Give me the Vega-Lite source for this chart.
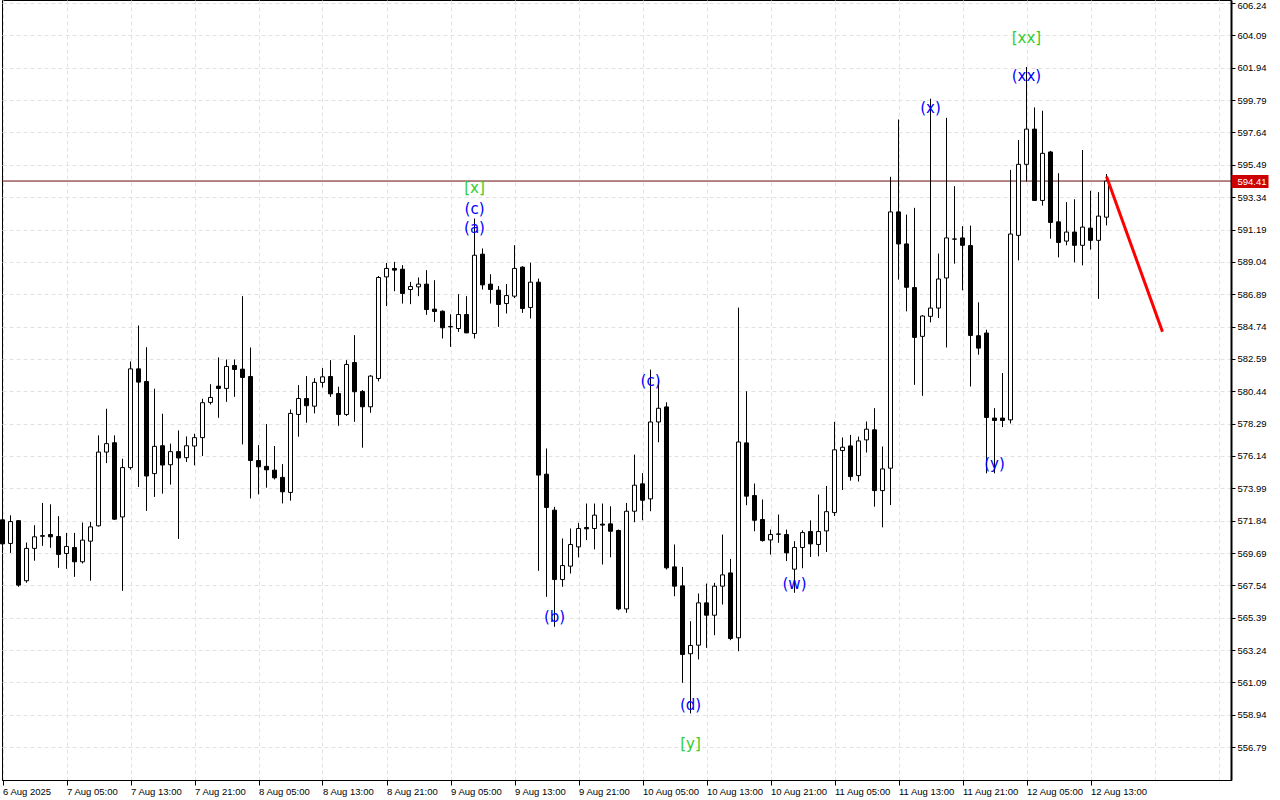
{
  "$schema": "https://vega.github.io/schema/vega-lite/v6.json",
  "width": 1229,
  "height": 780,
  "autosize": {"type": "none"},
  "padding": {"left": 2, "top": 0, "right": 49, "bottom": 20},
  "background": "white",
  "config": {"view": {"stroke": "black", "strokeWidth": 1}, "font": "Liberation Sans", "axis": {"labelOverlap": false}},
  "resolve": {"axis": {"y": "independent"}},
  "datasets": {
    "candles": [
      {"t":"2025-08-06T21:00Z","o":571.9,"h":572.3,"l":569.9,"c":570.3},
      {"t":"2025-08-06T22:00Z","o":570.33,"h":572.2,"l":569.7,"c":571.78},
      {"t":"2025-08-06T23:00Z","o":571.84,"h":571.87,"l":567.45,"c":567.56},
      {"t":"2025-08-07T00:00Z","o":567.85,"h":570.39,"l":567.72,"c":570.0},
      {"t":"2025-08-07T01:00Z","o":570.0,"h":571.54,"l":569.18,"c":570.77},
      {"t":"2025-08-07T02:00Z","o":570.8,"h":573.02,"l":570.17,"c":570.85},
      {"t":"2025-08-07T03:00Z","o":570.92,"h":572.93,"l":570.04,"c":570.77},
      {"t":"2025-08-07T04:00Z","o":570.79,"h":572.14,"l":568.71,"c":569.6},
      {"t":"2025-08-07T05:00Z","o":569.66,"h":571.03,"l":568.64,"c":570.13},
      {"t":"2025-08-07T06:00Z","o":570.06,"h":571.03,"l":568.11,"c":569.11},
      {"t":"2025-08-07T07:00Z","o":569.11,"h":571.72,"l":569.0,"c":570.55},
      {"t":"2025-08-07T08:00Z","o":570.48,"h":571.76,"l":567.85,"c":571.43},
      {"t":"2025-08-07T09:00Z","o":571.5,"h":577.51,"l":571.45,"c":576.4},
      {"t":"2025-08-07T10:00Z","o":576.4,"h":579.28,"l":575.67,"c":576.96},
      {"t":"2025-08-07T11:00Z","o":577.02,"h":577.51,"l":571.9,"c":571.94},
      {"t":"2025-08-07T12:00Z","o":572.09,"h":575.96,"l":567.18,"c":575.37},
      {"t":"2025-08-07T13:00Z","o":575.37,"h":582.42,"l":575.23,"c":581.93},
      {"t":"2025-08-07T14:00Z","o":581.93,"h":584.81,"l":574.08,"c":581.05},
      {"t":"2025-08-07T15:00Z","o":581.09,"h":583.37,"l":572.49,"c":574.81},
      {"t":"2025-08-07T16:00Z","o":574.97,"h":580.61,"l":573.42,"c":576.78},
      {"t":"2025-08-07T17:00Z","o":576.82,"h":578.95,"l":573.64,"c":575.54},
      {"t":"2025-08-07T18:00Z","o":575.56,"h":576.96,"l":574.24,"c":576.43},
      {"t":"2025-08-07T19:00Z","o":576.43,"h":577.84,"l":570.63,"c":576.01},
      {"t":"2025-08-07T20:00Z","o":576.03,"h":577.44,"l":575.74,"c":576.82},
      {"t":"2025-08-07T21:00Z","o":576.8,"h":577.62,"l":575.52,"c":577.36},
      {"t":"2025-08-07T22:00Z","o":577.36,"h":579.94,"l":576.14,"c":579.68},
      {"t":"2025-08-07T23:00Z","o":579.7,"h":580.91,"l":579.56,"c":580.03},
      {"t":"2025-08-08T00:00Z","o":580.78,"h":582.69,"l":578.68,"c":580.63},
      {"t":"2025-08-08T01:00Z","o":580.63,"h":582.55,"l":579.74,"c":582.09},
      {"t":"2025-08-08T02:00Z","o":582.15,"h":582.55,"l":580.07,"c":581.89},
      {"t":"2025-08-08T03:00Z","o":581.91,"h":586.76,"l":576.91,"c":581.36},
      {"t":"2025-08-08T04:00Z","o":581.42,"h":583.35,"l":573.32,"c":575.84},
      {"t":"2025-08-08T05:00Z","o":575.84,"h":576.86,"l":573.59,"c":575.42},
      {"t":"2025-08-08T06:00Z","o":575.45,"h":578.26,"l":574.03,"c":575.22},
      {"t":"2025-08-08T07:00Z","o":575.2,"h":576.8,"l":574.58,"c":574.69},
      {"t":"2025-08-08T08:00Z","o":574.72,"h":575.6,"l":572.99,"c":573.76},
      {"t":"2025-08-08T09:00Z","o":573.72,"h":579.23,"l":573.17,"c":578.97},
      {"t":"2025-08-08T10:00Z","o":578.9,"h":580.85,"l":577.42,"c":579.96},
      {"t":"2025-08-08T11:00Z","o":579.96,"h":581.45,"l":578.35,"c":579.48},
      {"t":"2025-08-08T12:00Z","o":579.45,"h":581.31,"l":578.97,"c":581.03},
      {"t":"2025-08-08T13:00Z","o":581.03,"h":581.98,"l":580.69,"c":581.4},
      {"t":"2025-08-08T14:00Z","o":581.42,"h":582.51,"l":580.07,"c":580.27},
      {"t":"2025-08-08T15:00Z","o":580.29,"h":580.74,"l":578.15,"c":578.9},
      {"t":"2025-08-08T16:00Z","o":578.9,"h":582.51,"l":578.8,"c":582.22},
      {"t":"2025-08-08T17:00Z","o":582.35,"h":584.17,"l":578.41,"c":580.41},
      {"t":"2025-08-08T18:00Z","o":580.43,"h":580.52,"l":576.69,"c":579.41},
      {"t":"2025-08-08T19:00Z","o":579.41,"h":581.51,"l":579.01,"c":581.45},
      {"t":"2025-08-08T20:00Z","o":581.29,"h":588.1,"l":581.1,"c":588.0},
      {"t":"2025-08-08T21:00Z","o":588.04,"h":588.97,"l":586.1,"c":588.6},
      {"t":"2025-08-08T22:00Z","o":588.6,"h":589.04,"l":587.09,"c":588.49},
      {"t":"2025-08-08T23:00Z","o":588.55,"h":588.82,"l":586.27,"c":586.94},
      {"t":"2025-08-09T00:00Z","o":587.2,"h":587.71,"l":586.23,"c":587.4},
      {"t":"2025-08-09T01:00Z","o":587.38,"h":588.0,"l":586.76,"c":587.56},
      {"t":"2025-08-09T02:00Z","o":587.56,"h":588.49,"l":585.52,"c":585.87},
      {"t":"2025-08-09T03:00Z","o":585.9,"h":587.82,"l":585.05,"c":585.74},
      {"t":"2025-08-09T04:00Z","o":585.76,"h":585.81,"l":583.95,"c":584.66},
      {"t":"2025-08-09T05:00Z","o":584.74,"h":585.56,"l":583.39,"c":584.72},
      {"t":"2025-08-09T06:00Z","o":584.61,"h":586.89,"l":584.39,"c":585.54},
      {"t":"2025-08-09T07:00Z","o":585.54,"h":586.76,"l":584.3,"c":584.32},
      {"t":"2025-08-09T08:00Z","o":584.28,"h":591.92,"l":583.95,"c":589.48},
      {"t":"2025-08-09T09:00Z","o":589.55,"h":589.93,"l":587.2,"c":587.51},
      {"t":"2025-08-09T10:00Z","o":587.56,"h":588.22,"l":586.27,"c":587.2},
      {"t":"2025-08-09T11:00Z","o":587.16,"h":587.43,"l":584.72,"c":586.21},
      {"t":"2025-08-09T12:00Z","o":586.27,"h":587.56,"l":585.61,"c":586.8},
      {"t":"2025-08-09T13:00Z","o":586.76,"h":590.15,"l":586.63,"c":588.6},
      {"t":"2025-08-09T14:00Z","o":588.69,"h":588.75,"l":585.65,"c":585.94},
      {"t":"2025-08-09T15:00Z","o":586.01,"h":588.98,"l":585.28,"c":587.69},
      {"t":"2025-08-09T16:00Z","o":587.69,"h":587.93,"l":568.51,"c":574.87},
      {"t":"2025-08-09T17:00Z","o":574.93,"h":576.64,"l":566.78,"c":572.72},
      {"t":"2025-08-09T18:00Z","o":572.54,"h":572.76,"l":564.79,"c":567.93},
      {"t":"2025-08-09T19:00Z","o":567.93,"h":570.66,"l":567.45,"c":568.86},
      {"t":"2025-08-09T20:00Z","o":568.82,"h":571.32,"l":568.33,"c":570.26},
      {"t":"2025-08-09T21:00Z","o":570.1,"h":571.7,"l":569.4,"c":571.32},
      {"t":"2025-08-09T22:00Z","o":571.39,"h":572.98,"l":570.55,"c":571.3},
      {"t":"2025-08-09T23:00Z","o":571.32,"h":572.98,"l":569.93,"c":572.21},
      {"t":"2025-08-10T00:00Z","o":571.61,"h":572.98,"l":568.93,"c":571.55},
      {"t":"2025-08-10T01:00Z","o":571.63,"h":572.8,"l":569.41,"c":571.14},
      {"t":"2025-08-10T02:00Z","o":571.19,"h":571.25,"l":565.89,"c":565.98},
      {"t":"2025-08-10T03:00Z","o":565.98,"h":573.02,"l":565.72,"c":572.47},
      {"t":"2025-08-10T04:00Z","o":572.47,"h":576.23,"l":571.74,"c":574.2},
      {"t":"2025-08-10T05:00Z","o":574.29,"h":575.0,"l":571.87,"c":573.2},
      {"t":"2025-08-10T06:00Z","o":573.29,"h":581.88,"l":572.47,"c":578.4},
      {"t":"2025-08-10T07:00Z","o":578.4,"h":581.21,"l":577.05,"c":579.31},
      {"t":"2025-08-10T08:00Z","o":579.4,"h":579.71,"l":568.6,"c":568.71},
      {"t":"2025-08-10T09:00Z","o":568.77,"h":570.26,"l":566.82,"c":567.49},
      {"t":"2025-08-10T10:00Z","o":567.51,"h":568.77,"l":561.07,"c":562.95},
      {"t":"2025-08-10T11:00Z","o":563.0,"h":565.16,"l":559.03,"c":563.55},
      {"t":"2025-08-10T12:00Z","o":563.57,"h":567.0,"l":562.62,"c":566.38},
      {"t":"2025-08-10T13:00Z","o":566.38,"h":567.66,"l":563.39,"c":565.56},
      {"t":"2025-08-10T14:00Z","o":565.56,"h":567.71,"l":564.23,"c":567.49},
      {"t":"2025-08-10T15:00Z","o":567.49,"h":570.92,"l":566.27,"c":568.24},
      {"t":"2025-08-10T16:00Z","o":568.37,"h":569.3,"l":563.9,"c":564.01},
      {"t":"2025-08-10T17:00Z","o":564.06,"h":586.0,"l":563.17,"c":577.07},
      {"t":"2025-08-10T18:00Z","o":577.01,"h":580.44,"l":572.87,"c":573.47},
      {"t":"2025-08-10T19:00Z","o":573.51,"h":574.31,"l":571.14,"c":571.87},
      {"t":"2025-08-10T20:00Z","o":571.92,"h":573.25,"l":570.45,"c":570.52},
      {"t":"2025-08-10T21:00Z","o":570.56,"h":571.25,"l":569.59,"c":570.92},
      {"t":"2025-08-10T22:00Z","o":570.96,"h":572.25,"l":570.37,"c":570.94},
      {"t":"2025-08-10T23:00Z","o":570.92,"h":571.25,"l":569.16,"c":569.7},
      {"t":"2025-08-11T00:00Z","o":568.62,"h":570.48,"l":567.05,"c":570.06},
      {"t":"2025-08-11T01:00Z","o":570.06,"h":571.2,"l":568.68,"c":571.05},
      {"t":"2025-08-11T02:00Z","o":571.12,"h":571.86,"l":569.43,"c":570.3},
      {"t":"2025-08-11T03:00Z","o":570.26,"h":573.58,"l":569.47,"c":571.12},
      {"t":"2025-08-11T04:00Z","o":571.16,"h":574.15,"l":569.76,"c":572.44},
      {"t":"2025-08-11T05:00Z","o":572.38,"h":578.41,"l":572.15,"c":576.55},
      {"t":"2025-08-11T06:00Z","o":576.5,"h":577.37,"l":573.88,"c":576.72},
      {"t":"2025-08-11T07:00Z","o":576.81,"h":577.54,"l":574.5,"c":574.77},
      {"t":"2025-08-11T08:00Z","o":574.84,"h":577.43,"l":574.44,"c":577.14},
      {"t":"2025-08-11T09:00Z","o":577.21,"h":578.43,"l":576.37,"c":577.92},
      {"t":"2025-08-11T10:00Z","o":577.88,"h":579.32,"l":572.77,"c":573.84},
      {"t":"2025-08-11T11:00Z","o":573.84,"h":576.77,"l":571.4,"c":575.28},
      {"t":"2025-08-11T12:00Z","o":575.33,"h":594.69,"l":572.88,"c":592.36},
      {"t":"2025-08-11T13:00Z","o":592.36,"h":598.5,"l":587.86,"c":590.23},
      {"t":"2025-08-11T14:00Z","o":590.23,"h":592.18,"l":585.75,"c":587.35},
      {"t":"2025-08-11T15:00Z","o":587.33,"h":592.63,"l":580.87,"c":584.02},
      {"t":"2025-08-11T16:00Z","o":584.09,"h":585.5,"l":580.14,"c":585.44},
      {"t":"2025-08-11T17:00Z","o":585.42,"h":599.88,"l":585.02,"c":585.97},
      {"t":"2025-08-11T18:00Z","o":585.97,"h":589.59,"l":585.31,"c":587.9},
      {"t":"2025-08-11T19:00Z","o":587.97,"h":598.61,"l":583.35,"c":590.63},
      {"t":"2025-08-11T20:00Z","o":590.56,"h":594.07,"l":588.92,"c":590.55},
      {"t":"2025-08-11T21:00Z","o":590.63,"h":591.41,"l":587.15,"c":590.14},
      {"t":"2025-08-11T22:00Z","o":590.12,"h":591.45,"l":580.76,"c":584.15},
      {"t":"2025-08-11T23:00Z","o":584.13,"h":586.35,"l":582.87,"c":583.31},
      {"t":"2025-08-12T00:00Z","o":584.31,"h":584.53,"l":574.99,"c":578.7},
      {"t":"2025-08-12T01:00Z","o":578.66,"h":579.32,"l":574.99,"c":578.5},
      {"t":"2025-08-12T02:00Z","o":578.66,"h":581.65,"l":578.06,"c":578.5},
      {"t":"2025-08-12T03:00Z","o":578.54,"h":595.15,"l":578.3,"c":590.89},
      {"t":"2025-08-12T04:00Z","o":590.8,"h":597.13,"l":589.14,"c":595.52},
      {"t":"2025-08-12T05:00Z","o":595.52,"h":601.99,"l":594.37,"c":597.86},
      {"t":"2025-08-12T06:00Z","o":597.86,"h":599.3,"l":593.1,"c":593.12},
      {"t":"2025-08-12T07:00Z","o":593.12,"h":599.08,"l":592.78,"c":596.25},
      {"t":"2025-08-12T08:00Z","o":596.34,"h":596.41,"l":590.58,"c":591.66},
      {"t":"2025-08-12T09:00Z","o":591.7,"h":594.93,"l":589.34,"c":590.33},
      {"t":"2025-08-12T10:00Z","o":590.42,"h":593.01,"l":590.14,"c":591.02},
      {"t":"2025-08-12T11:00Z","o":591.02,"h":593.2,"l":589.01,"c":590.14},
      {"t":"2025-08-12T12:00Z","o":590.14,"h":596.47,"l":588.81,"c":591.35},
      {"t":"2025-08-12T13:00Z","o":591.28,"h":593.76,"l":589.85,"c":590.47},
      {"t":"2025-08-12T14:00Z","o":590.47,"h":593.67,"l":586.58,"c":592.08},
      {"t":"2025-08-12T15:00Z","o":592.01,"h":594.88,"l":591.46,"c":594.41}
    ],
    "labels": [
      {"t":"2025-08-09T08:00Z","p":593.95,"label":"[x]","kind":"cycle"},
      {"t":"2025-08-09T08:00Z","p":592.55,"label":"(c)","kind":"wave"},
      {"t":"2025-08-09T08:00Z","p":591.29,"label":"(a)","kind":"wave"},
      {"t":"2025-08-09T18:00Z","p":565.44,"label":"(b)","kind":"wave"},
      {"t":"2025-08-10T06:00Z","p":581.12,"label":"(c)","kind":"wave"},
      {"t":"2025-08-10T11:00Z","p":559.6,"label":"(d)","kind":"wave"},
      {"t":"2025-08-10T11:00Z","p":557.0,"label":"[y]","kind":"cycle"},
      {"t":"2025-08-11T00:00Z","p":567.64,"label":"(w)","kind":"wave"},
      {"t":"2025-08-11T17:00Z","p":599.26,"label":"(x)","kind":"wave"},
      {"t":"2025-08-12T01:00Z","p":575.61,"label":"(y)","kind":"wave"},
      {"t":"2025-08-12T05:00Z","p":601.39,"label":"(xx)","kind":"wave"},
      {"t":"2025-08-12T05:00Z","p":603.91,"label":"[xx]","kind":"cycle"}
    ],
    "forecast": [
      {"t":"2025-08-12T15:00Z","p":594.71},
      {"t":"2025-08-12T22:00Z","p":584.39}
    ],
    "lastPrice": [
      {"p":594.41}
    ]
  },
  "layer": [
    {
      "data": {"name": "lastPrice"},
      "mark": {"type": "rule", "color": "#6a0a0a", "strokeWidth": 1},
      "encoding": {
        "y": {
          "field": "p",
          "type": "quantitative",
          "scale": {"domain": [554.61, 606.44], "zero": false, "nice": false},
          "axis": {
            "orient": "right",
            "title": null,
            "values": [594.41],
            "format": ".2f",
            "grid": false,
            "domain": false,
            "tickColor": "#cc0000",
            "tickWidth": 13,
            "tickSize": 37,
            "labelColor": "white",
            "labelPadding": -31,
            "labelFont": "Liberation Sans",
            "labelFontSize": 9.5,
            "labelOverlap": false,
            "labelBound": false,
            "labelFlush": false,
            "zindex": 3
          }
        }
      }
    },
    {
      "data": {"name": "candles"},
      "encoding": {
        "x": {
          "field": "t",
          "type": "temporal",
          "scale": {
            "type": "utc",
            "padding": 0,
            "domain": [
              {"year": 2025, "month": 8, "date": 6, "hours": 20, "minutes": 56, "seconds": 15, "utc": true},
              {"year": 2025, "month": 8, "date": 13, "hours": 6, "minutes": 33, "seconds": 45, "utc": true}
            ]
          },
          "axis": {
            "title": null,
            "values": [1754514000000,1754528400000,1754542800000,1754557200000,1754571600000,1754586000000,1754600400000,1754614800000,1754629200000,1754643600000,1754658000000,1754672400000,1754686800000,1754701200000,1754715600000,1754730000000,1754744400000,1754758800000,1754773200000,1754787600000,1754802000000,1754816400000,1754830800000,1754845200000,1754859600000,1754874000000,1754888400000,1754902800000,1754917200000,1754931600000,1754946000000,1754960400000,1754974800000,1754989200000,1755003600000,1755018000000,1755032400000,1755046800000,1755061200000],
            "labelExpr": "utchours(datum.value) % 8 == 5 && datum.value <= 1755003600000 ? (utcdate(datum.value) == 6 ? '6 Aug 2025' : utcFormat(datum.value, '%-d %b %H:%M')) : ''",
            "grid": true,
            "gridColor": "#e2e2e2",
            "gridDash": [4, 3],
            "domainColor": "black",
            "domainWidth": 1,
            "tickColor": "black",
            "tickSize": 5,
            "tickOpacity": {"condition": {"test": "utchours(datum.value) % 8 == 5 && datum.value <= 1755003600000", "value": 1}, "value": 0},
            "labelAlign": "left",
            "labelBaseline": "top",
            "labelPadding": 1,
            "labelFont": "Liberation Sans",
            "labelFontSize": 9.5,
            "labelColor": "black",
            "labelOverlap": false,
            "labelBound": false,
            "labelFlush": false
          }
        }
      },
      "layer": [
        {
          "mark": {"type": "rule", "color": "black", "strokeWidth": 1},
          "encoding": {
            "y": {"field": "l", "type": "quantitative", "scale": {"domain": [554.61, 606.44], "zero": false, "nice": false}, "axis": null},
            "y2": {"field": "h"}
          }
        },
        {
          "mark": {"type": "bar", "width": 4, "stroke": "black", "strokeWidth": 1},
          "encoding": {
            "y": {"field": "o", "type": "quantitative", "scale": {"domain": [554.61, 606.44], "zero": false, "nice": false}, "axis": null},
            "y2": {"field": "c"},
            "fill": {"condition": {"test": "datum.c >= datum.o", "value": "white"}, "value": "black"}
          }
        }
      ]
    },
    {
      "data": {"name": "forecast"},
      "mark": {"type": "line", "color": "#ff0000", "strokeWidth": 3},
      "encoding": {
        "x": {"field": "t", "type": "temporal"},
        "y": {
          "field": "p",
          "type": "quantitative",
          "scale": {"domain": [554.61, 606.44], "zero": false, "nice": false},
          "axis": {
            "orient": "right",
            "title": null,
            "values": [556.79,558.94,561.09,563.24,565.39,567.54,569.69,571.84,573.99,576.14,578.29,580.44,582.59,584.74,586.89,589.04,591.19,593.34,595.49,597.64,599.79,601.94,604.09,606.24],
            "format": ".2f",
            "grid": true,
            "gridColor": "#e2e2e2",
            "gridDash": [4, 3],
            "domainColor": "black",
            "domainWidth": 2,
            "tickColor": "black",
            "tickWidth": 1,
            "tickSize": 4,
            "labelColor": "black",
            "labelFont": "Liberation Sans",
            "labelFontSize": 9.5,
            "labelPadding": 2,
            "labelBaseline": {"condition": {"test": "datum.value == 606.24", "value": "top"}, "value": "middle"},
            "labelOffset": {"condition": {"test": "datum.value == 606.24", "value": -3}, "value": 0},
            "labelOverlap": false,
            "labelSeparation": 0,
            "labelBound": false,
            "labelFlush": false
          }
        }
      }
    },
    {
      "data": {"name": "labels"},
      "mark": {"type": "text", "font": "DejaVu Sans", "fontSize": 15, "align": "center", "baseline": "middle"},
      "encoding": {
        "x": {"field": "t", "type": "temporal"},
        "y": {"field": "p", "type": "quantitative", "scale": {"domain": [554.61, 606.44], "zero": false, "nice": false}, "axis": null},
        "text": {"field": "label"},
        "color": {"field": "kind", "type": "nominal", "scale": {"domain": ["wave", "cycle"], "range": ["#0000ff", "#32cd32"]}, "legend": null}
      }
    }
  ]
}
